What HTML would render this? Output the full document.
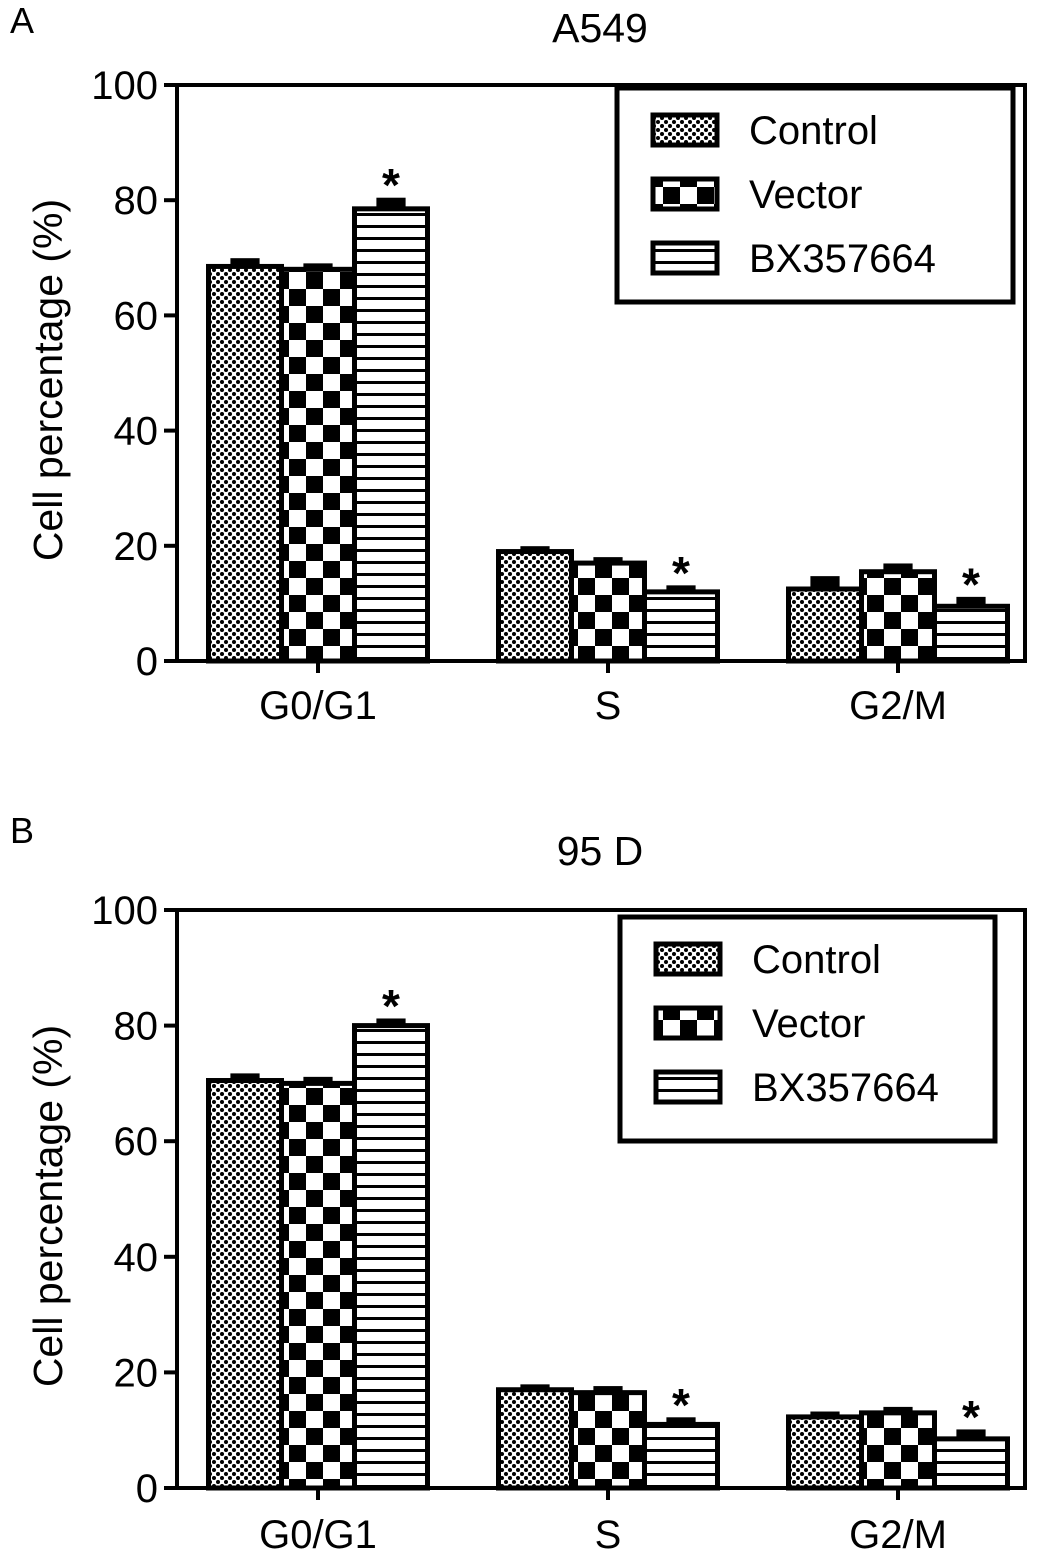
<!DOCTYPE html>
<html><head><meta charset="utf-8"><style>
body{margin:0;background:#fff}
svg{display:block;font-family:"Liberation Sans",Arial,sans-serif}
</style></head><body>
<svg id="c" width="1044" height="1565" viewBox="0 0 1044 1565">
<defs>
<pattern id="pDot" width="8" height="8" patternUnits="userSpaceOnUse"><rect width="8" height="8" fill="#fff"/><circle cx="2" cy="2" r="2" fill="#000"/><circle cx="6" cy="6" r="2" fill="#000"/></pattern>
<pattern id="pChk" width="34" height="34" patternUnits="userSpaceOnUse"><rect width="34" height="34" fill="#fff"/><rect width="17" height="17" fill="#000"/><rect x="17" y="17" width="17" height="17" fill="#000"/></pattern>
<pattern id="pHor" width="12" height="12" patternUnits="userSpaceOnUse"><rect width="12" height="12" fill="#fff"/><rect y="9" width="12" height="3" fill="#000"/></pattern>
</defs>
</svg>
<script>
const categories=["G0/G1","S","G2/M"];
const seriesNames=["Control","Vector","BX357664"];
const ticks=[0,20,40,60,80,100];
const aControl=[68.5,19,12.5], aVector=[68,17,15.5], aBX=[78.5,12,9.5];
const aErrC=[1,0.5,1.8], aErrV=[0.6,0.6,1], aErrB=[1.5,0.7,1.2];
const bControl=[70.5,17,12.3], bVector=[70,16.5,13], bBX=[80,11,8.5];
const bErrC=[0.8,0.5,0.5], bErrV=[0.7,0.7,0.6], bErrB=[0.8,0.8,1.2];
const aStar=[true,true,true], bStar=[true,true,true];
const fills=["url(#pDot)","url(#pChk)","url(#pHor)"];
const NS="http://www.w3.org/2000/svg";
const svg=document.getElementById('c');
function el(t,a,p){const e=document.createElementNS(NS,t);for(const k in a)e.setAttribute(k,a[k]);(p||svg).appendChild(e);return e;}
function panel(cfg){
 const g=el('g',{});
 
 
 const x0=177,x1=1025,top=cfg.top,bot=cfg.bot;
 const y=v=>bot-(v/100)*(bot-top);
 const groupX=i=>318+i*290;
 const bw=73;
 let t=el('text',{x:10,y:cfg.letterY,'font-size':36},g);t.textContent=cfg.letter;
 
 t=el('text',{x:600,y:cfg.titleY,'font-size':41,'text-anchor':'middle'},g);t.textContent=cfg.title;
 
 t=el('text',{x:0,y:0,'font-size':41,'text-anchor':'middle',transform:`translate(62,${(top+bot)/2+7}) rotate(-90)`},g);t.textContent='Cell percentage (%)';
 
 const vals=[cfg.c,cfg.v,cfg.b], errs=[cfg.ec,cfg.ev,cfg.eb];
 categories.forEach((c,i)=>{
  for(let s=0;s<3;s++){
   const bx=groupX(i)+(s-1.5)*bw, v=vals[s][i], e=errs[s][i];
   const r=el('rect',{x:bx,y:y(v),width:bw,height:bot-y(v),fill:fills[s],stroke:'#000','stroke-width':5},g);
   
   
   const eb=el('rect',{x:bx+bw*0.3,y:y(v+e)-2.5,width:bw*0.4,height:y(v)-y(v+e)+2.5,fill:'#000'},g);
   
   
  }
  if(cfg.star[i]){const v=vals[2][i]+errs[2][i];const st=el('text',{x:groupX(i)+bw,y:y(v)+1,'font-size':46,'text-anchor':'middle','font-weight':'bold'},g);st.textContent='*';
   }
  const xt=el('line',{x1:groupX(i),x2:groupX(i),y1:bot,y2:bot+12,stroke:'#000','stroke-width':4},g);
  
  const xl=el('text',{x:groupX(i),y:bot+cfg.xlOff,'font-size':40,'text-anchor':'middle'},g);xl.textContent=c;
  
 });
 const fr=el('path',{d:`M${x0},${top}H${x1}V${bot}H${x0}Z`,fill:'none',stroke:'#000','stroke-width':4},g);
 
 ticks.forEach(v=>{
  const l=el('line',{x1:x0-13,x2:x0,y1:y(v),y2:y(v),stroke:'#000','stroke-width':4},g);
  
  const tl=el('text',{x:158,y:y(v)+14,'font-size':40,'text-anchor':'end'},g);tl.textContent=v;
  
 });
 const L=cfg.leg;
 const lb=el('rect',{x:L.x,y:L.y,width:L.w,height:L.h,fill:'#fff',stroke:'#000','stroke-width':5},g);
 
 seriesNames.forEach((n,s)=>{
  const cy=L.y+42+s*64;
  const sw=el('rect',{x:L.x+36,y:cy-15,width:64,height:30,fill:fills[s],stroke:'#000','stroke-width':5},g);
  
  const lt=el('text',{x:L.x+132,y:cy+14,'font-size':40},g);lt.textContent=n;
  
 });
}
panel({name:'chart-a549',letter:'A',letterY:33,title:'A549',titleY:42,top:85,bot:661,xlOff:58,c:aControl,v:aVector,b:aBX,ec:aErrC,ev:aErrV,eb:aErrB,star:aStar,leg:{x:617,y:88,w:396,h:214}});
panel({name:'chart-95d',letter:'B',letterY:843,title:'95 D',titleY:865,top:910,bot:1488,xlOff:60,c:bControl,v:bVector,b:bBX,ec:bErrC,ev:bErrV,eb:bErrB,star:bStar,leg:{x:620,y:917,w:375,h:224}});
</script>
</body></html>
